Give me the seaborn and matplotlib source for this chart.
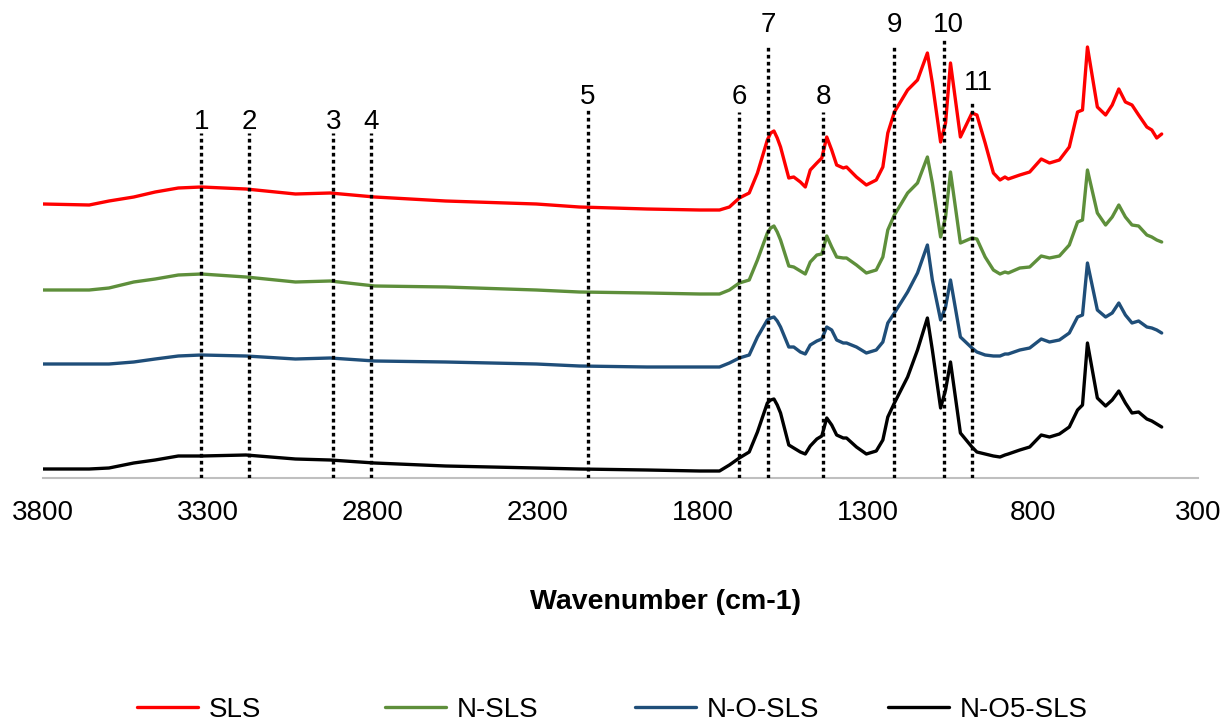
import numpy as np
import pandas as pd
import matplotlib
matplotlib.use("Agg")
import matplotlib.pyplot as plt
import seaborn as sns

# ---------------- data (intensity in arbitrary units, offset stacked) ----------------
wavenumber = [3800, 3660, 3600, 3525, 3460, 3390, 3320, 3185, 3035, 2930, 2795, 2580, 2305, 2175,
              1970, 1810, 1750, 1720, 1690, 1660, 1635, 1605, 1595, 1585, 1575, 1565, 1540, 1525,
              1505, 1490, 1475, 1455, 1440, 1425, 1410, 1395, 1375, 1365, 1335, 1305, 1275, 1255,
              1240, 1220, 1180, 1150, 1120, 1105, 1080, 1065, 1050, 1020, 985, 970, 945, 920, 900,
              885, 875, 840, 810, 775, 750, 720, 690, 665, 650, 635, 605, 580, 560, 540, 520, 500,
              480, 455, 440, 425, 410]

sls = [274, 273, 277, 281, 286, 290, 291, 289, 284, 285, 281, 277, 274, 271,
       269, 268, 268, 271, 280, 285, 305, 338, 345, 347, 340, 331, 300, 301,
       296, 291, 308, 315, 320, 341, 328, 313, 310, 311, 301, 293, 298, 311,
       345, 366, 388, 398, 425, 395, 336, 355, 415, 341, 365, 363, 335, 305, 298,
       301, 299, 303, 306, 319, 315, 318, 331, 366, 368, 431, 371, 363, 373, 389, 376, 373,
       363, 351, 348, 340, 344]

n_sls = [188, 188, 190, 196, 199, 203, 204, 201, 196, 197, 192, 191, 188, 186,
         185, 184, 184, 188, 195, 198, 218, 245, 250, 252, 246, 238, 212, 211,
         207, 204, 216, 223, 224, 242, 231, 221, 220, 220, 213, 205, 208, 221,
         248, 263, 285, 295, 321, 295, 241, 261, 306, 235, 240, 239, 221, 208, 204,
         206, 205, 210, 211, 222, 220, 222, 233, 256, 258, 308, 265, 253, 261, 273, 261, 253,
         252, 243, 241, 238, 236]

n_o_sls = [114, 114, 114, 116, 119, 122, 123, 122, 119, 120, 117, 116, 114, 112,
           111, 111, 111, 115, 120, 123, 141, 158, 160, 161, 157, 151, 131, 131,
           126, 124, 133, 137, 139, 151, 148, 138, 135, 135, 131, 125, 128, 136,
           155, 165, 186, 205, 233, 198, 158, 171, 198, 141, 130, 126, 123, 122, 122,
           124, 124, 128, 130, 139, 136, 138, 145, 161, 163, 215, 168, 161, 165, 175, 163, 155,
           157, 151, 150, 148, 145]

n_o5_sls = [9, 9, 10, 15, 18, 22, 22, 23, 19, 18, 15, 12, 10, 9,
            8, 7, 7, 13, 20, 26, 46, 75, 78, 79, 73, 65, 33, 30,
            26, 24, 32, 39, 42, 60, 53, 43, 40, 40, 31, 24, 27, 38,
            61, 75, 101, 128, 160, 128, 70, 88, 116, 45, 31, 26, 24, 22, 21,
            23, 24, 28, 31, 43, 41, 44, 51, 68, 73, 135, 80, 72, 78, 87, 75, 65,
            66, 59, 57, 54, 51]

series_names = ["SLS", "N-SLS", "N-O-SLS", "N-O5-SLS"]
series_colors = ["#FF0000", "#5E8F3B", "#1F4E79", "#000000"]

# marked bands
band_labels = ["1", "2", "3", "4", "5", "6", "7", "8", "9", "10", "11"]
band_wn = [3320, 3175, 2920, 2805, 2150, 1690, 1603, 1435, 1220, 1070, 985]
band_top = [345, 345, 345, 345, 368, 366, 431, 366, 431, 441, 378]
label_wn = [3320, 3175, 2920, 2805, 2150, 1690, 1603, 1435, 1220, 1057, 967]
label_y = [356, 356, 356, 356, 381, 381, 453, 381, 453, 453, 395]

x_ticks = [3800, 3300, 2800, 2300, 1800, 1300, 800, 300]

# ---------------- build long table ----------------
frames = []
for name, vals in zip(series_names, [sls, n_sls, n_o_sls, n_o5_sls]):
    frames.append(pd.DataFrame({"Wavenumber": wavenumber, "Intensity": vals, "Sample": name}))
df = pd.concat(frames, ignore_index=True)

sns.set_theme(style="white")
plt.rcParams["font.family"] = ["Liberation Sans", "DejaVu Sans"]
plt.rcParams["text.color"] = "black"
plt.rcParams["axes.labelcolor"] = "black"
plt.rcParams["xtick.color"] = "black"

fig = plt.figure(figsize=(12.24, 7.24), dpi=100)
ax = fig.add_axes([43 / 1224, 246 / 724, 1155 / 1224, 467 / 724])

sns.lineplot(data=df, x="Wavenumber", y="Intensity", hue="Sample",
             hue_order=series_names, palette=series_colors,
             estimator=None, sort=False, linewidth=2.4, ax=ax)

# dotted band markers
for lab, wn, top, lwn, ly in zip(band_labels, band_wn, band_top, label_wn, label_y):
    ax.plot([wn, wn], [0, top], color="black", linewidth=2.4,
            linestyle=(0, (1.1, 1.0)), zorder=5)
    ax.text(lwn, ly, lab, ha="center", va="center", fontsize=20, color="black", zorder=6)

ax.set_xlim(3800, 300)
ax.set_ylim(0, 467)
ax.set_xticks(x_ticks)
ax.set_xticklabels([str(t) for t in x_ticks], fontsize=20, color="black")
ax.set_yticks([])
ax.set_ylabel("")
ax.tick_params(axis="x", length=0, pad=16)
for s in ["top", "right", "left"]:
    ax.spines[s].set_visible(False)
ax.spines["bottom"].set_color("#BFBFBF")
ax.spines["bottom"].set_linewidth(1.5)

ax.set_xlabel("Wavenumber (cm-1)", fontsize=20.5, fontweight="bold", color="black")
ax.xaxis.set_label_coords(0.539, -0.238)

# legend: four equally spaced entries along the bottom
handles, labels = ax.get_legend_handles_labels()
if ax.get_legend() is not None:
    ax.get_legend().remove()
leg_x = [137 / 1224, 385 / 1224, 635 / 1224, 888 / 1224]
for h, l, lx in zip(handles, labels, leg_x):
    h.set_linewidth(2.4)
    leg = fig.legend([h], [l], loc="center left", bbox_to_anchor=(lx, 14 / 724),
                     frameon=False, fontsize=20, handlelength=2.2, handletextpad=0.4,
                     borderpad=0, borderaxespad=0)
    for t in leg.get_texts():
        t.set_color("black")

fig.savefig("out.png", dpi=100)
